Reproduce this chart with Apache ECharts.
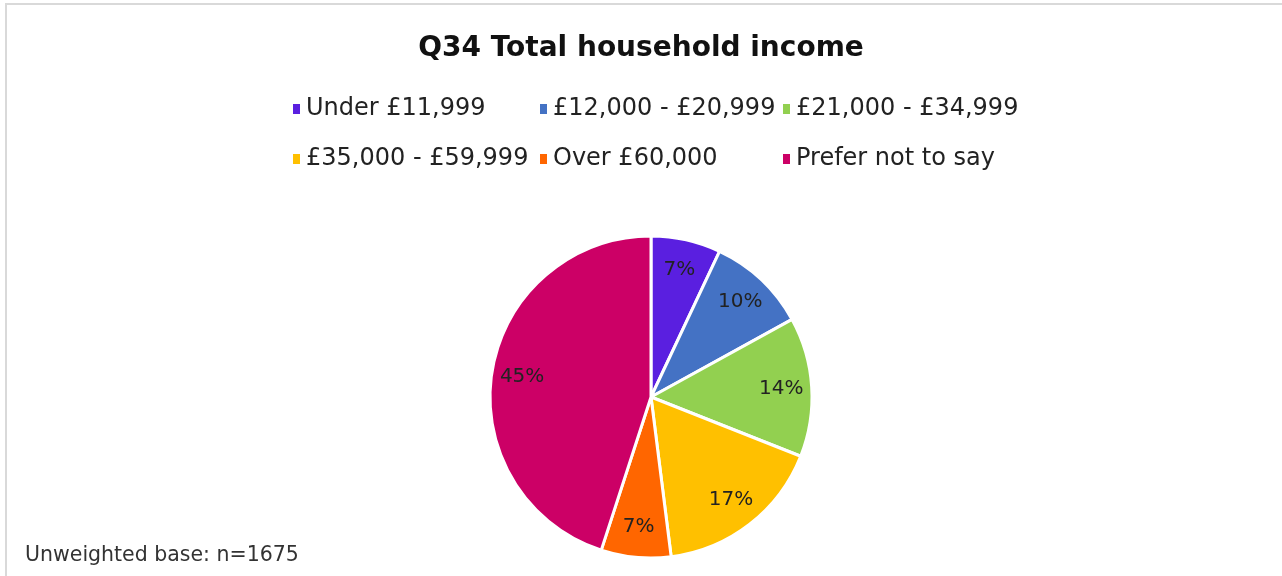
<!DOCTYPE html>
<html lang="en">
<head>
    <meta charset="UTF-8">
    <title>Q34 Total household income</title>
    <script src="https://cdn.jsdelivr.net/npm/echarts@6/dist/echarts.min.js"></script>
    <style>
        html, body { margin: 0; padding: 0; background: #fff; }
        #main { width: 1282px; height: 576px; }
    </style>
</head>
<body>
<div id="main"></div>
<script>
var categories = ['Under £11,999', '£12,000 - £20,999', '£21,000 - £34,999',
                  '£35,000 - £59,999', 'Over £60,000', 'Prefer not to say'];
var shares = [7, 10, 14, 17, 7, 45];
var colors = ['#5a1fe0', '#4472c4', '#92d050', '#ffc000', '#ff6600', '#cc0066'];

var font = 'DejaVu Sans';

(function() {
    var myChart = echarts.init(document.getElementById('main'));

    var data = [];
    for (var i = 0; i < categories.length; i ++) {
        data.push({ name: categories[i], value: shares[i], itemStyle: { color: colors[i] } });
    }

    // legend laid out in 3 columns of 2 rows, like the original
    function legendCol(left, names) {
        return {
            orient: 'vertical',
            left: left,
            top: 97,
            padding: 0,
            itemGap: 26,
            itemWidth: 9,
            itemHeight: 12,
            icon: 'rect',
            data: names,
            selectedMode: false,
            textStyle: { fontFamily: font, fontSize: 24, color: '#222' }
        };
    }

    var option = {
        animation: false,
        title: {
            text: 'Q34 Total household income',
            left: 'center',
            top: 30,
            textStyle: { fontFamily: font, fontSize: 28, fontWeight: 'bold', color: '#111' }
        },
        legend: [
            legendCol(291, [categories[0], categories[3]]),
            legendCol(538, [categories[1], categories[4]]),
            legendCol(781, [categories[2], categories[5]])
        ],
        graphic: [
            { type: 'rect', shape: { x: 6, y: 4, width: 1290, height: 600 },
              style: { fill: 'none', stroke: '#d9d9d9', lineWidth: 2 }, silent: true },
            { type: 'text', left: 25, top: 545,
              style: { text: 'Unweighted base: n=1675', font: '20.5px ' + font, fill: '#333' } }
        ],
        series: [{
            name: 'income',
            type: 'pie',
            center: [651, 397],
            radius: 161,
            startAngle: 90,
            clockwise: true,
            label: { show: false },
            labelLine: { show: false },
            itemStyle: { borderColor: '#fff', borderWidth: 3 },
            data: data
        }, {
            // invisible ring that only carries the percentage labels
            name: 'labels',
            type: 'pie',
            center: [651, 397],
            radius: [94, 161],
            startAngle: 90,
            clockwise: true,
            silent: true,
            itemStyle: { color: 'rgba(0,0,0,0)' },
            label: {
                show: true,
                position: 'inside',
                formatter: '{c}%',
                fontFamily: font,
                fontSize: 20,
                color: '#222'
            },
            data: shares.map(function(v, i) { return { name: categories[i], value: v }; })
        }]
    };

    myChart.setOption(option);
})();
</script>
</body>
</html>
